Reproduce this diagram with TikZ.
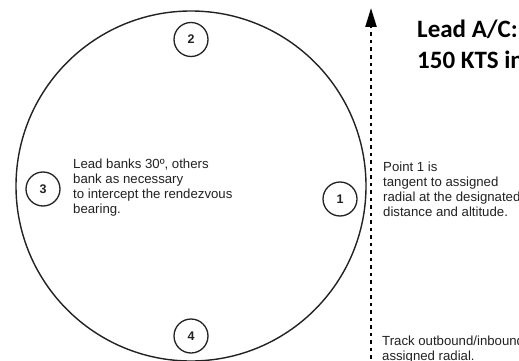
\documentclass[tikz,border=0pt]{standalone}
\usepackage{fontspec}
\setmainfont{Liberation Sans}
\newfontfamily\titlefont{Carlito}
\usetikzlibrary{arrows.meta}
\definecolor{ink}{HTML}{222222}
\begin{document}
\begin{tikzpicture}[x=1pt,y=-1pt,
  pointnum/.style={circle,draw=ink,line width=1.3pt,minimum size=34pt,inner sep=0pt,font=\fontsize{12.5}{14}\selectfont\bfseries,text=ink},
  note/.style={anchor=base west,align=left,inner sep=0pt,font=\fontsize{13.2}{15}\selectfont,text=ink},
  titletext/.style={anchor=base west,align=left,inner sep=0pt,font=\titlefont\fontsize{25}{31}\selectfont\bfseries,text=black},
  track/.style={line width=2.2pt,dash pattern=on 3.5pt off 4pt,draw=black}]
\useasboundingbox (0,0) rectangle (519,361);
\clip (0,0) rectangle (519,361);
\fill[white] (0,0) rectangle (519,361);
% orbit
\node[circle,draw=ink,line width=1.4pt,minimum size=350pt,inner sep=0pt] (orbit) at (191,186) {};
% points
\node[pointnum] (p1) at (340,199) {1};
\node[pointnum] (p2) at (191,39.5) {2};
\node[pointnum] (p3) at (43,189) {3};
\node[pointnum] (p4) at (191,336) {4};
% track line
\coordinate (trackstart) at (371,366);
\coordinate (tracktop) at (371,8);
\draw[track,-{Triangle[length=19pt,width=11pt]}] (trackstart) -- (tracktop);
% texts (anchored at the baseline of their last line)
\node[note] (t3) at (73,213) {Lead banks 30º, others\\bank as necessary\\to intercept the rendezvous\\bearing.};
\node[note] (t1) at (383,216) {Point 1 is\\tangent to assigned\\radial at the designated\\distance and altitude.};
\node[note] (tt) at (382,360) {Track outbound/inbound\\assigned radial.};
\node[titletext] (title) at (417,68) {Lead A/C:\\150 KTS in};
\end{tikzpicture}
\end{document}
